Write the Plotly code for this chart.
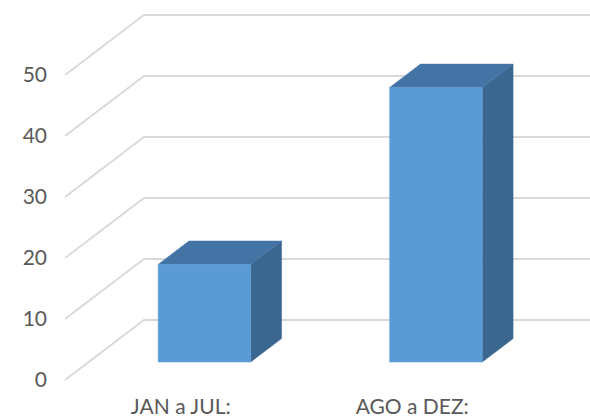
import plotly.graph_objects as go

# ---- data ----
categories = ["JAN a JUL:", "AGO a DEZ:"]
values = [16, 45]
y_ticks = [0, 10, 20, 30, 40, 50]
y_tick_labels = ["0", "10", "20", "30", "40", "50"]

# ---- geometry / style (not data) ----
W, H = 590, 419
ML, MB = 48, 27
PX_PER_CAT = 231.5
PX_PER_VAL = 6.1
FLOOR_LEFT_PX = 65 - ML
FLOOR_FRONT_PX = 380
DEPTH_PX = (79, 60)
DX = DEPTH_PX[0] / PX_PER_CAT
DY = DEPTH_PX[1] / PX_PER_VAL
BAR_W = 0.4
D0, D1 = 0.30, 0.69

x0 = -0.5 - FLOOR_LEFT_PX / PX_PER_CAT
x1 = -0.5 + (W - 65) / PX_PER_CAT
plot_h = H - MB
y0 = -(plot_h - FLOOR_FRONT_PX) / PX_PER_VAL
y1 = FLOOR_FRONT_PX / PX_PER_VAL

grid_col = "#d9d9d9"
front_col = "#5b9bd5"
top_col = "#4474a5"
side_col = "#3b6690"
text_col = "#595959"
FONT = "Lato"

fig = go.Figure()

# gridlines: front-left diagonal + back wall horizontal
gx, gy = [], []
for v in y_ticks:
    gx += [-0.5, -0.5 + DX, x1 + 1, None]
    gy += [v, v + DY, v + DY, None]
fig.add_trace(go.Scatter(x=gx, y=gy, mode="lines",
                         line=dict(color=grid_col, width=1.8),
                         hoverinfo="skip", showlegend=False))

def poly(xs, ys, color):
    fig.add_trace(go.Scatter(x=xs + [xs[0]], y=ys + [ys[0]], mode="lines",
                             fill="toself", fillcolor=color,
                             line=dict(color=color, width=0.5),
                             hoverinfo="skip", showlegend=False))

for i, v in enumerate(values):
    l = i - BAR_W / 2
    r = i + BAR_W / 2
    fx, fy = D0 * DX, D0 * DY
    bx, by = D1 * DX, D1 * DY
    # side face
    poly([r + fx, r + bx, r + bx, r + fx], [fy, by, v + by, v + fy], side_col)
    # top face
    poly([l + fx, r + fx, r + bx, l + bx], [v + fy, v + fy, v + by, v + by], top_col)
    # front face
    poly([l + fx, r + fx, r + fx, l + fx], [fy, fy, v + fy, v + fy], front_col)

fig.update_layout(
    width=W, height=H,
    margin=dict(l=ML, r=0, t=0, b=MB, pad=0),
    paper_bgcolor="white", plot_bgcolor="white",
    font=dict(family=FONT, color=text_col, size=21),
    xaxis=dict(range=[x0, x1], tickvals=list(range(len(categories))),
               ticktext=categories, showgrid=False, zeroline=False,
               showline=False, ticks="", fixedrange=True, automargin=False,
               ticklabelstandoff=0),
    yaxis=dict(range=[y0, y1], tickvals=y_ticks, ticktext=y_tick_labels,
               showgrid=False, zeroline=False, showline=False, ticks="",
               fixedrange=True, automargin=False, ticklabelstandoff=0),
    showlegend=False,
)
fig.write_html("out.html", config={"displayModeBar": False, "staticPlot": True},
               post_script="document.body.style.margin='0';document.body.style.overflow='hidden';")
